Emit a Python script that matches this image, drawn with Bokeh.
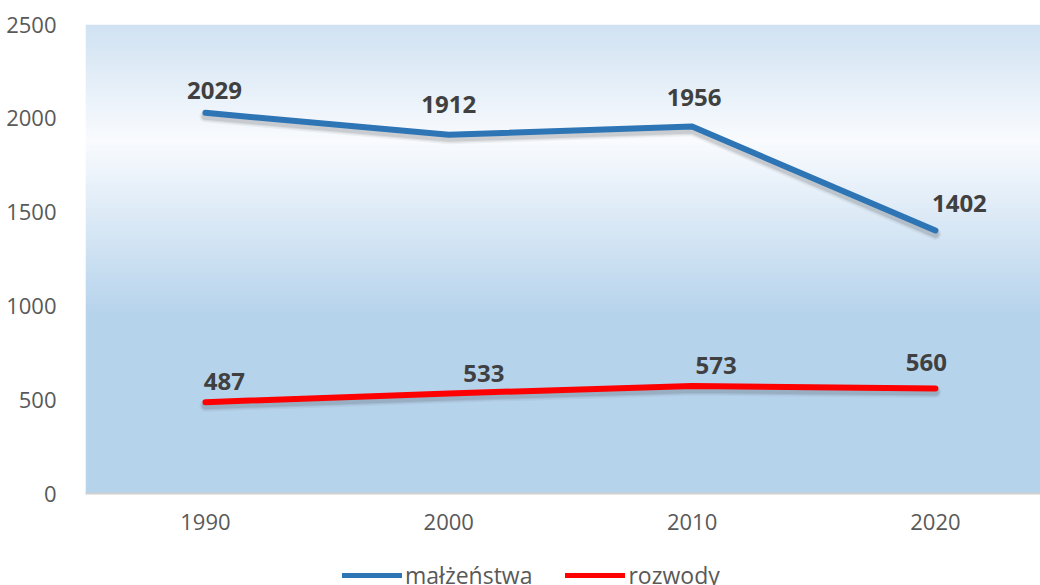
import numpy as np
from bokeh.plotting import figure
from bokeh.layouts import column
from bokeh.models import Range1d, FixedTicker, Legend, LegendItem, ColumnDataSource
from bokeh.core.properties import value
from bokeh.embed import file_html
from bokeh.resources import INLINE

# ---- data ----
years = ["1990", "2000", "2010", "2020"]
malzenstwa = [2029, 1912, 1956, 1402]
rozwody = [487, 533, 573, 560]
y_ticks = [0, 500, 1000, 1500, 2000, 2500]
series_names = ["małżeństwa", "rozwody"]

# ---- layout ----
W, H = 1040, 560
x_start, x_end = -0.493, 3.432
y_min, y_max = 0, 2500

p = figure(width=W, height=H, output_backend="svg", toolbar_location=None,
           x_range=Range1d(x_start, x_end), y_range=Range1d(y_min, y_max),
           min_border_left=85, min_border_right=0, min_border_top=24, min_border_bottom=67)
p.outline_line_color = None
p.background_fill_color = "white"
p.border_fill_color = "white"
p.xgrid.visible = False
p.ygrid.visible = False

# background gradient (frame fill)
N = 469
def lerp(c1, c2, t):
    return tuple(int(round(a + (b - a) * t)) for a, b in zip(c1, c2))
top_c = (208, 226, 242)
white_c = (249, 251, 254)
blue_c = (182, 211, 236)
rows = []
for i in range(N):  # i = pixel from top
    if i < 116:
        c = lerp(top_c, white_c, i / 116)
    elif i < 290:
        c = lerp(white_c, blue_c, (i - 116) / 174)
    else:
        c = blue_c
    rows.append(c)
rows = rows[::-1]  # image row 0 = bottom
img = np.zeros((N, 2), dtype=np.uint32)
view = img.view(dtype=np.uint8).reshape((N, 2, 4))
for i, c in enumerate(rows):
    view[i, :, 0] = c[0]
    view[i, :, 1] = c[1]
    view[i, :, 2] = c[2]
    view[i, :, 3] = 255
p.image_rgba(image=[img], x=x_start, y=y_min, dw=x_end - x_start, dh=y_max - y_min)

xs = list(range(len(years)))
px_per_unit = 469 / 2500
shadow = 3.5 / px_per_unit

blue = "#2e75b6"
red = "#ff0000"

# soft shadows
for w, a in [(12, 0.06), (9, 0.08), (7, 0.10)]:
    p.line(xs, [v - shadow for v in malzenstwa], line_color="#303030", line_alpha=a,
           line_width=w, line_cap="round", line_join="round")
    p.line(xs, [v - shadow for v in rozwody], line_color="#303030", line_alpha=a,
           line_width=w, line_cap="round", line_join="round")

p.line(xs, malzenstwa, line_color=blue, line_width=6, line_cap="round", line_join="round")
p.line(xs, rozwody, line_color=red, line_width=6, line_cap="round", line_join="round")

# data labels
m_dx = [9, 0, 2, 24]
m_dy = [22, 30, 29, 27]
r_dx = [19, 35, 24, -9]
r_dy = [21, 20, 21, 26]
lab = ColumnDataSource(dict(
    x=xs + xs,
    y=malzenstwa + rozwody,
    t=[str(v) for v in malzenstwa + rozwody],
    dx=m_dx + r_dx,
    dy=[-d for d in m_dy + r_dy],
))
p.text(x="x", y="y", text="t", x_offset="dx", y_offset="dy", source=lab,
       text_font=value("Open Sans"), text_font_style="bold", text_font_size="24px",
       text_color="#404040", text_align="center", text_baseline="middle")

# axes
p.xaxis.ticker = FixedTicker(ticks=xs)
p.xaxis.major_label_overrides = {i: y for i, y in enumerate(years)}
p.xaxis.axis_line_color = "#d0d0d0"
p.xaxis.axis_line_width = 2
p.xaxis.major_tick_line_color = None
p.xaxis.minor_tick_line_color = None
p.xaxis.major_label_standoff = 14
p.xaxis.major_label_text_font = "Open Sans"
p.xaxis.major_label_text_font_size = "22px"
p.xaxis.major_label_text_color = "#595959"

p.yaxis.ticker = FixedTicker(ticks=y_ticks)
p.yaxis.axis_line_color = None
p.yaxis.major_tick_line_color = None
p.yaxis.minor_tick_line_color = None
p.yaxis.major_label_standoff = 23
p.yaxis.major_label_text_font = "Open Sans"
p.yaxis.major_label_text_font_size = "22px"
p.yaxis.major_label_text_color = "#595959"

# legend strip (separate figure below; its frame is aligned with the main frame)
leg = figure(width=W, height=25, output_backend="svg", toolbar_location=None,
             x_range=Range1d(0, 1), y_range=Range1d(0, 1),
             min_border_left=0, min_border_right=0, min_border_top=0, min_border_bottom=0)
leg.axis.visible = False
leg.grid.visible = False
leg.outline_line_color = None
d1 = leg.line(x=[5, 6], y=[5, 5], line_color=blue, line_width=5, line_cap="round")
d2 = leg.line(x=[5, 6], y=[5, 5], line_color=red, line_width=5, line_cap="round")
legend = Legend(items=[LegendItem(label=series_names[0], renderers=[d1]),
                       LegendItem(label=series_names[1], renderers=[d2])],
                orientation="horizontal", location=(257, -6),
                glyph_width=60, glyph_height=24, label_standoff=3, spacing=33,
                padding=0, margin=0, border_line_color=None, background_fill_alpha=0,
                label_text_font="Open Sans", label_text_font_size="23px",
                label_text_color="#595959")
leg.add_layout(legend, "center")

layout = column(p, leg, spacing=0)
open("out.html", "w").write(file_html(layout, INLINE))
